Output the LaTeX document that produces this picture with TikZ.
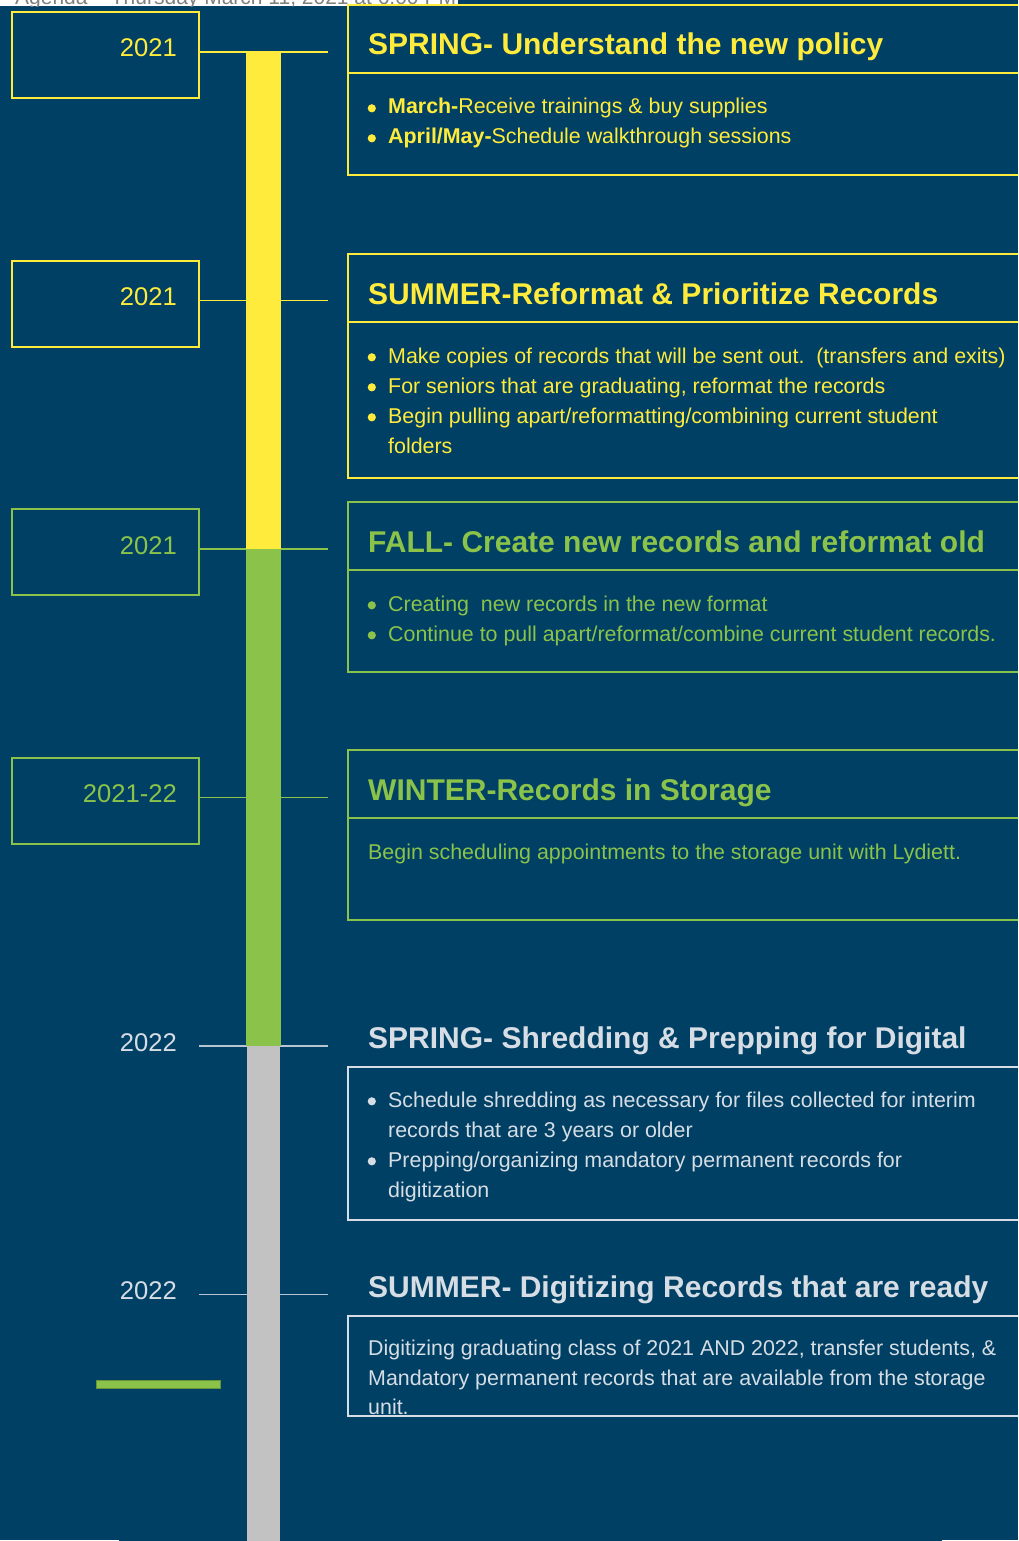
\documentclass[tikz,border=0pt]{standalone}
\usepackage{fontspec}
\setmainfont{Liberation Sans}
\usetikzlibrary{positioning}
\definecolor{tlnavy}{HTML}{004064}
\definecolor{tlyellow}{HTML}{FFEB3B}
\definecolor{tlgreen}{HTML}{8BC34A}
\definecolor{tlgrey}{HTML}{C2C2C2}
\definecolor{tlpale}{HTML}{D6DDE4}
\definecolor{tlagenda}{HTML}{808080}
\newcommand{\tlbul}{\makebox[21pt][l]{\hspace{0.5pt}\raisebox{1.6pt}{\tikz\fill (0,0) circle (4.1pt);}}}
\newcommand{\tlind}{\hspace*{21pt}}
\tikzset{
  yrbox/.style = {draw, line width=2pt, minimum width=187pt,
                  minimum height=86pt, inner sep=0pt},
  yrlbl/.style = {font=\fontsize{25.6}{26}\selectfont, anchor=base east,
                  inner sep=0pt},
  ttl/.style   = {font=\fontsize{30}{32}\selectfont\bfseries,
                  anchor=base west, inner sep=0pt},
  txt/.style   = {font=\fontsize{21.4}{30}\selectfont, anchor=base west,
                  inner sep=0pt},
  pnl/.style   = {line width=2pt},
  tick/.style  = {line width=1.5pt},
}

\begin{document}
\begin{tikzpicture}[x=1pt,y=-1pt]
  \useasboundingbox (0,0) rectangle (1018,1541);
  \clip (0,0) rectangle (1018,1541);
  \fill[tlnavy] (0,0) rectangle (1018,1541);

  % header strip, mostly cut off
  \fill[white] (0,0) rectangle (458,6.5);
  \begin{scope}
    \clip (0,0) rectangle (458,6.5);
    \node[txt, font=\fontsize{21}{22}\selectfont, text=tlagenda] (agenda)
      at (15,4.5) {Agenda -- Thursday March 11, 2021 at 6:00 PM};
  \end{scope}
  \fill[white] (0,1539.5) rectangle (119,1541);
  \fill[white] (942,1539.5) rectangle (1018,1541);

  % year boxes and ticks
  \foreach \i/\c/\yr in {0/tlyellow/2021, 1/tlyellow/2021, 2/tlgreen/2021, 3/tlgreen/2021-22}{
    \node[yrbox, draw=\c] (yb\i) at (105.5,55+248.5*\i) {};
    \node[yrlbl, text=\c] (yl\i) at (177,57+248.5*\i) {\yr};
    \coordinate (ye\i) at (328,52+248.5*\i);
    \draw[tick, \c] (yb\i.east |- ye\i) -- (ye\i);
  }
  \foreach \i in {4,5}{
    \node[yrlbl, text=tlpale] (yl\i) at (177,57+248.5*\i) {2022};
    \coordinate (ys\i) at (199,52+248.5*\i);
    \coordinate (ye\i) at (328,52+248.5*\i);
    \draw[tick, tlpale!85!tlnavy] (ys\i) -- (ye\i);
  }

  % the bar
  \fill[tlyellow] (246,52) rectangle (281,549);
  \fill[tlgreen] (246,549) rectangle (281,1046);
  \fill[tlgrey] (247,1046) rectangle (280,1541);
  \fill[tlgreen, draw=tlgreen!75!black, line width=0.8pt] (96,1380.5) rectangle (220.5,1388);

  % panels
  \foreach \t/\b/\c in {5/175/tlyellow, 254/478/tlyellow, 502/672/tlgreen, 750/920/tlgreen}{
    \draw[pnl, \c] (1030,\t) -- (348,\t) -- (348,\b) -- (1030,\b);
    \draw[pnl, \c] (348,\t+68) -- (1030,\t+68);
  }
  \draw[pnl, tlpale] (1030,1067) -| (348,1220) -- (1030,1220);
  \draw[pnl, tlpale] (1030,1316) -| (348,1416) -- (1030,1416);

  \node[ttl, text=tlyellow] (h1) at (368,55) {SPRING- Understand the new policy};
  \node[ttl, text=tlyellow] (h2) at (368,304) {SUMMER-Reformat \& Prioritize Records};
  \node[ttl, text=tlgreen] (h3) at (368,552) {FALL- Create new records and reformat old};
  \node[ttl, text=tlgreen] (h4) at (368,800) {WINTER-Records in Storage};
  \node[ttl, text=tlpale] (h5) at (368,1048) {SPRING- Shredding \& Prepping for Digital};
  \node[ttl, text=tlpale] (h6) at (368,1297) {SUMMER- Digitizing Records that are ready};

  \foreach \y/\s [count=\k] in {114/{\tlbul{\bfseries March-}Receive trainings \& buy supplies},
                                144/{\tlbul{\bfseries April/May-}Schedule walkthrough sessions}}{
    \node[txt, text=tlyellow] (p1l\k) at (367,\y) {\s};
  }
  \foreach \y/\s [count=\k] in {363/{\tlbul Make copies of records that will be sent out.\ \ (transfers and exits)},
                                393/{\tlbul For seniors that are graduating, reformat the records},
                                423/{\tlbul Begin pulling apart/reformatting/combining current student},
                                453/{\tlind folders}}{
    \node[txt, text=tlyellow] (p2l\k) at (367,\y) {\s};
  }
  \foreach \y/\s [count=\k] in {611/{\tlbul Creating\ \ new records in the new format},
                                641/{\tlbul Continue to pull apart/reformat/combine current student records.}}{
    \node[txt, text=tlgreen] (p3l\k) at (367,\y) {\s};
  }
  \node[txt, text=tlgreen] (p4l1) at (368,859) {Begin scheduling appointments to the storage unit with Lydiett.};
  \foreach \y/\s [count=\k] in {1107/{\tlbul Schedule shredding as necessary for files collected for interim},
                                1137/{\tlind records that are 3 years or older},
                                1167/{\tlbul Prepping/organizing mandatory permanent records for},
                                1197/{\tlind digitization}}{
    \node[txt, text=tlpale] (p5l\k) at (367,\y) {\s};
  }
  \foreach \y/\s [count=\k] in {1355/{Digitizing graduating class of 2021 AND 2022, transfer students, \&},
                                1385/{Mandatory permanent records that are available from the storage},
                                1414/{unit.}}{
    \node[txt, text=tlpale] (p6l\k) at (368,\y) {\s};
  }
\end{tikzpicture}
\end{document}
